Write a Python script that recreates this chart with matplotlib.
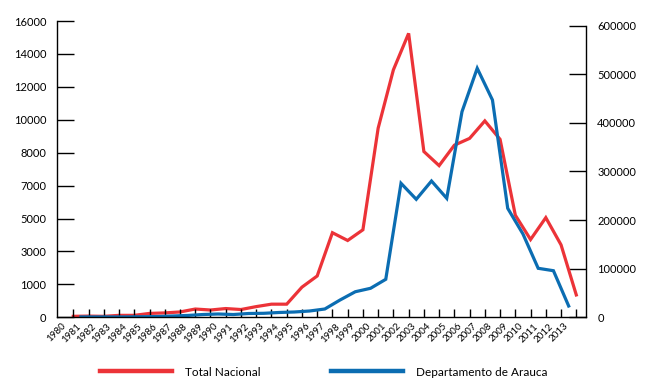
import numpy as np
import matplotlib.pyplot as plt
from matplotlib.ticker import FixedLocator, FixedFormatter
import matplotlib.transforms as mtransforms

plt.rcParams['font.family'] = ['Lato', 'DejaVu Sans']

# datos
anios = list(range(1980, 2014))
total_nacional = [2000, 2500, 2000, 4000, 4000, 8000, 9000, 11000, 17000, 15000,
                  18000, 16000, 22000, 27000, 27000, 62000, 85000, 174000, 158000, 180000,
                  389000, 509000, 584000, 341000, 312000, 354000, 368000, 404000, 366000, 210000,
                  160000, 205000, 149000, 46000]

anios_arauca = list(range(1980, 2013))
arauca = [20, 20, 20, 20, 30, 40, 70, 100, 150, 178,
          150, 205, 216, 260, 286, 340, 448, 934, 1380, 1566,
          2052, 7236, 6372, 7360, 6426, 11100, 13446, 11734, 5886, 4500,
          2646, 2516, 610]

izq_ticks = ['0', '1000', '3000', '5000', '7000', '8000', '10000', '12000', '14000', '16000']
der_ticks = [0, 100000, 200000, 300000, 400000, 500000, 600000]

rojo = '#EC3338'
azul = '#0B6DB2'

fig = plt.figure(figsize=(6.49, 3.84), dpi=100)
ax = fig.add_axes([0.0883, 0.1737, 0.8147, 0.7716])
ax2 = ax.twinx()

l2, = ax.plot(np.array(anios_arauca) + 0.5, arauca, color=azul, lw=2.3, solid_joinstyle='miter')
l1, = ax2.plot(anios, total_nacional, color=rojo, lw=2.3, solid_joinstyle='miter')
ax2.set_zorder(ax.get_zorder() - 1)
ax.patch.set_visible(False)

ax.set_xlim(1978.95, 2013.64)
ax.set_ylim(0, 16000)
ax2.set_ylim(0, 600000 * 296.3 / 291.7)

for a in (ax, ax2):
    a.spines['top'].set_visible(False)
    for s in a.spines.values():
        s.set_linewidth(1.0)
ax2.spines['right'].set_bounds(0, 600000)
ax.spines['right'].set_visible(False)
ax2.spines['left'].set_visible(False)
ax2.spines['bottom'].set_visible(False)

# eje izquierdo (etiquetas tal como el original)
ax.yaxis.set_major_locator(FixedLocator(np.linspace(0, 16000, len(izq_ticks))))
ax.yaxis.set_major_formatter(FixedFormatter(izq_ticks))
ax.tick_params(axis='y', direction='in', length=12, width=1, labelsize=8, pad=8)

ax2.yaxis.set_major_locator(FixedLocator(der_ticks))
ax2.set_yticklabels([str(v) for v in der_ticks])
ax2.tick_params(axis='y', direction='in', length=12, width=1, labelsize=8, pad=8)

ax.set_xticks(anios)
ax.set_xticklabels([str(a) for a in anios], rotation=45, ha='right', va='top', fontsize=7)
ax.tick_params(axis='x', direction='in', length=6, width=1, pad=3)
offset = mtransforms.ScaledTranslation(-0.06, 0, fig.dpi_scale_trans)
for lab in ax.get_xticklabels():
    lab.set_transform(lab.get_transform() + offset)

leg = ax.legend([l1, l2], ['Total Nacional', 'Departamento de Arauca'], ncol=2,
                loc='center', bbox_to_anchor=(0.499, 0.031), bbox_transform=fig.transFigure,
                frameon=False, fontsize=8.5, handlelength=6.1, handletextpad=1.1,
                columnspacing=6.0)
for h in leg.get_lines():
    h.set_linewidth(3.2)

fig.savefig('out.png', dpi=100)
